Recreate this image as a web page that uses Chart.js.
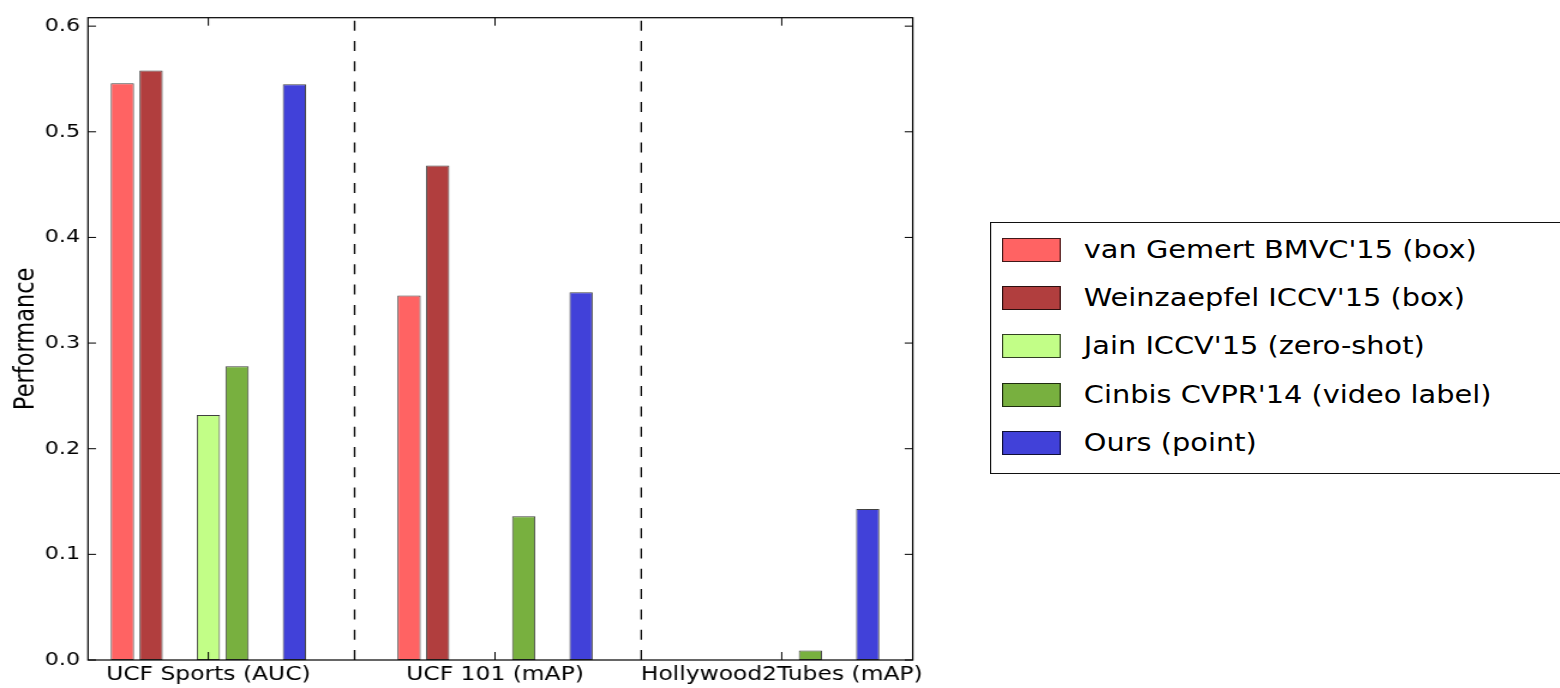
<!DOCTYPE html>
<html>
<head>
<meta charset="utf-8">
<title>Performance</title>
<script src="https://cdn.jsdelivr.net/npm/chart.js@4.4.1/dist/chart.umd.min.js"></script>
<style>
  html, body { margin: 0; padding: 0; background: #fff; overflow: hidden; }
  /* figure is drawn narrow and widened 1.2x, like the exported image */
  #stage {
    position: relative; width: 1300px; height: 688px;
    transform: scaleX(1.2); transform-origin: 0 0;
  }
  #legend {
    position: absolute; left: 825px; top: 222px; width: 500px; height: 252px;
    box-sizing: border-box; border: 1.2px solid #111; background: #fff;
    font-family: "DejaVu Sans", sans-serif; font-size: 24px; color: #000;
  }
  #legend .row { position: absolute; left: 8.7px; height: 24px; display: flex; align-items: center; white-space: nowrap; }
  #legend .swatch { width: 49px; height: 24px; box-sizing: border-box; border: 1px solid rgba(0,0,0,0.75); margin-right: 19.5px; }
</style>
</head>
<body>
<div id="stage">
  <canvas id="perfChart"></canvas>
  <div id="legend"></div>
</div>
<script>
/* ===============================
   DATA
================================ */
const categories = ["UCF Sports (AUC)", "UCF 101 (mAP)", "Hollywood2Tubes (mAP)"];
const seriesNames = [
  "van Gemert BMVC'15 (box)",
  "Weinzaepfel ICCV'15 (box)",
  "Jain ICCV'15 (zero-shot)",
  "Cinbis CVPR'14 (video label)",
  "Ours (point)"
];
const vanGemert   = [0.546, 0.345, null];
const weinzaepfel = [0.558, 0.468, null];
const jain        = [0.232, null,  null];
const cinbis      = [0.278, 0.136, 0.009];
const ours        = [0.545, 0.348, 0.143];
const yTicks = [0.0, 0.1, 0.2, 0.3, 0.4, 0.5, 0.6];

const seriesValues = [vanGemert, weinzaepfel, jain, cinbis, ours];
const seriesColors = ["#ff6363", "#b13e3e", "#c2fe87", "#78b03f", "#4141d9"];

/* ===============================
   SLOT LAYOUT (x axis in bar slots)
================================ */
const SLOT_START = 1.2;    // first bar centre
const GROUP_STRIDE = 10;   // slots per group
const slotOf = [0, 1, 3, 4, 6];
const dividers = [9.3, 19.3];
const X_MAX = 28.77;
const Y_MAX = 0.608;
const FONT = "DejaVu Sans";

const datasets = seriesValues.map((vals, i) => ({
  label: seriesNames[i],
  data: vals
    .map((v, g) => v === null ? null : { x: SLOT_START + g * GROUP_STRIDE + slotOf[i], y: v })
    .filter(Boolean),
  backgroundColor: seriesColors[i],
  borderColor: "rgba(0,0,0,0.75)",
  borderWidth: 1,
  borderSkipped: false,
  grouped: false,
  categoryPercentage: 1,
  barPercentage: 0.812
}));


/* FRAME, INWARD TICKS, DASHED DIVIDERS */
const framePlugin = {
  id: "frame",
  beforeDatasetsDraw(chart){
    const {ctx, chartArea:a, scales:{x}} = chart;
    ctx.save();
    ctx.strokeStyle = "#000";
    ctx.lineWidth = 1.3;
    ctx.setLineDash([10, 10.3]);
    dividers.forEach(d => {
      const px = x.getPixelForValue(d);
      ctx.beginPath();
      ctx.moveTo(px, a.bottom);
      ctx.lineTo(px, a.top);
      ctx.stroke();
    });
    ctx.restore();
  },
  afterDatasetsDraw(chart){
    const {ctx, chartArea:a, scales:{x, y}} = chart;
    ctx.save();
    ctx.strokeStyle = "#000";
    ctx.lineWidth = 1.2;
    ctx.strokeRect(a.left, a.top, a.right - a.left, a.bottom - a.top);
    ctx.lineWidth = 1;
    ctx.beginPath();
    y.ticks.forEach(t => {
      const py = y.getPixelForValue(t.value);
      ctx.moveTo(a.left, py);  ctx.lineTo(a.left + 6.7, py);
      ctx.moveTo(a.right, py); ctx.lineTo(a.right - 6.7, py);
    });
    x.ticks.forEach(t => {
      const px = x.getPixelForValue(t.value);
      ctx.moveTo(px, a.bottom); ctx.lineTo(px, a.bottom - 8);
      ctx.moveTo(px, a.top);    ctx.lineTo(px, a.top + 8);
    });
    ctx.stroke();
    ctx.restore();
  }
};


/* CHART */
const chart = new Chart(document.getElementById("perfChart"), {
  type: "bar",
  data: { datasets },
  options: {
    responsive: true,
    maintainAspectRatio: false,
    animation: false,
    layout: { padding: { left: 0, top: 12.7, right: 539.4, bottom: 0 } },
    plugins: { legend: { display: false }, tooltip: { enabled: false } },
    scales: {
      x: {
        type: "linear",
        offset: false,
        min: 0,
        max: X_MAX,
        grid: { display: false, drawTicks: false },
        border: { display: false },
        afterBuildTicks: s => {
          s.ticks = categories.map((c, g) => ({ value: SLOT_START + g * GROUP_STRIDE + 3 }));
        },
        afterFit: s => { s.height = 28; },
        ticks: {
          autoSkip: false,
          maxRotation: 0,
          padding: 3,
          color: "#000",
          font: { family: FONT, size: 19.5 },
          callback: (v, i) => categories[i]
        }
      },
      y: {
        min: 0,
        max: Y_MAX,
        grid: { display: false, drawTicks: false },
        border: { display: false },
        afterBuildTicks: s => { s.ticks = yTicks.map(v => ({ value: v })); },
        afterFit: s => { s.width = 73.3; },
        ticks: {
          padding: 6.6,
          color: "#000",
          font: { family: FONT, size: 18.5 },
          callback: v => Number(v).toFixed(1)
        },
        title: {
          display: true,
          text: "Performance",
          color: "#000",
          font: { family: FONT, size: 22.5 },
          padding: { top: 8.5, bottom: 0 }
        }
      }
    }
  },
  plugins: [framePlugin]
});


/* LEGEND */
const legendEl = document.getElementById("legend");
chart.data.datasets.forEach((ds, i) => {
  const row = document.createElement("div");
  row.className = "row";
  row.style.top = (14.6 + i * 48.3) + "px";
  const sw = document.createElement("div");
  sw.className = "swatch";
  sw.style.background = ds.backgroundColor;
  const txt = document.createElement("span");
  txt.textContent = ds.label;
  row.appendChild(sw);
  row.appendChild(txt);
  legendEl.appendChild(row);
});
</script>
</body>
</html>
